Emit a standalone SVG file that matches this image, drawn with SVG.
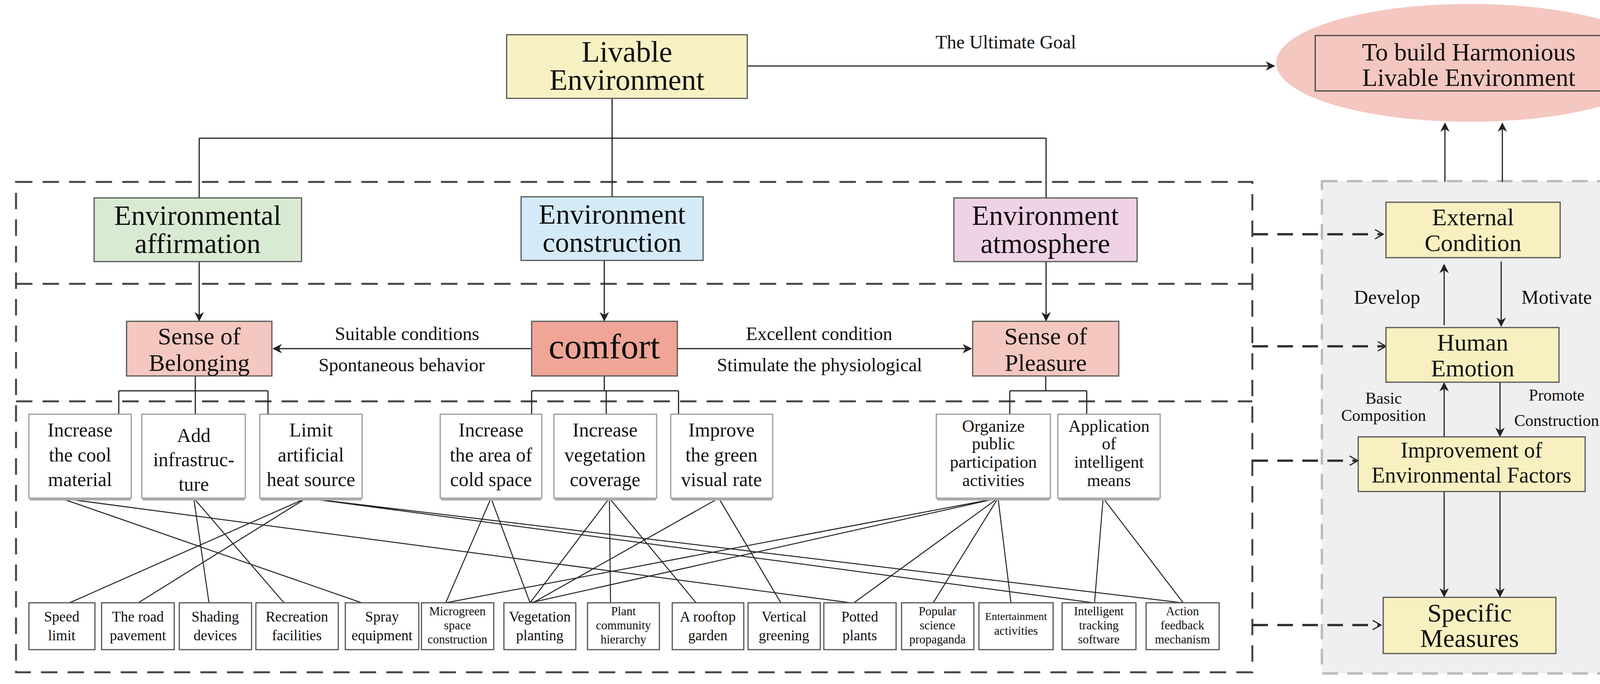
<svg xmlns="http://www.w3.org/2000/svg" width="4289" height="1752" viewBox="0 0 4289 1752">
<defs>
<style>
text{font-family:"Liberation Serif","Times New Roman",serif;fill:#111;text-anchor:middle}
.b{stroke:#555;stroke-width:3}
.w{fill:#fff;stroke:#999;stroke-width:3}
.sh{fill:none;stroke:#aaa;stroke-width:6}
.c{stroke:#222;stroke-width:3;fill:none}
.x{stroke:#222;stroke-width:2.5;fill:none}
.d{stroke:#444;stroke-width:5;fill:none;stroke-dasharray:42 26}
.dd{stroke:#333;stroke-width:6;fill:none;stroke-dasharray:40 24}
.h1{font-size:76px}.h2{font-size:62px}.h3{font-size:48px}.h4{font-size:50px}.h5{font-size:37px}.h6{font-size:31px}
</style>
<marker id="A" viewBox="0 0 10 10" refX="9" refY="5" markerWidth="24" markerHeight="24" orient="auto" markerUnits="userSpaceOnUse"><path d="M0,0L10,5L0,10L3,5z" fill="#222"/></marker>
</defs>
<rect width="4289" height="1752" fill="#fff"/>
<rect x="3384" y="464" width="798" height="1261" fill="#efefef" stroke="#bbb" stroke-width="6" stroke-dasharray="40 24"/>
<path class="d" d="M41,466H3206V1722H41Z M41,727H3206 M41,1028H3206"/>
<g id="connectors">
<path class="c" d="M1913,169H3262" marker-end="url(#A)"/>
<path class="c" d="M1567,252V504 M510,354H2678 M510,354V507 M2678,354V507"/>
<path class="c" d="M510,670V821" marker-end="url(#A)"/>
<path class="c" d="M1547,667V821" marker-end="url(#A)"/>
<path class="c" d="M2678,670V821" marker-end="url(#A)"/>
<path class="c" d="M1361,893H700" marker-end="url(#A)"/>
<path class="c" d="M1734,893H2486" marker-end="url(#A)"/>
<path class="c" d="M3699,466V316" marker-end="url(#A)"/>
<path class="c" d="M3846,466V316" marker-end="url(#A)"/>
<path class="c" d="M3697,833V678" marker-end="url(#A)"/>
<path class="c" d="M3843,670V835" marker-end="url(#A)"/>
<path class="c" d="M3697,1119V981" marker-end="url(#A)"/>
<path class="c" d="M3840,979V1117" marker-end="url(#A)"/>
<path class="c" d="M3697,1259V1528" marker-end="url(#A)"/>
<path class="c" d="M3840,1259V1528" marker-end="url(#A)"/>
<path class="dd" d="M3206,600H3538 M3206,887H3545 M3206,1180H3472 M3206,1601H3532"/>
<path class="c" d="M3520,588L3541,600L3520,612 M3527,875L3548,887L3527,899 M3455,1168L3476,1180L3455,1192 M3514,1589L3535,1601L3514,1613" fill="#222"/>
<path class="c" d="M500,963V1001 M304,1001H686 M304,1001V1061 M500,1001V1061 M686,1001V1061"/>
<path class="c" d="M1547,963V1001 M1361,1001H1737 M1361,1001V1061 M1552,1001V1061 M1737,1001V1061"/>
<path class="c" d="M2677,963V1001 M2585,1001H2782 M2585,1001V1061 M2782,1001V1061"/>
<path class="x" d="M155,1276L926,1544 M155,1276L2178,1544 M496,1276L535,1544 M496,1276L727,1544 M784,1276L178,1544 M784,1276L354,1544 M784,1276L2799,1544 M784,1276L3027,1544 M1257,1276L1141,1544 M1257,1276L1357,1544 M1560,1276L1357,1544 M1560,1276L1563,1544 M1560,1276L1782,1544 M1840,1276L1364,1544 M1840,1276L1999,1544 M2555,1276L1141,1544 M2555,1276L1357,1544 M2555,1276L2186,1544 M2555,1276L2389,1544 M2555,1276L2588,1544 M2824,1276L2802,1544 M2824,1276L3029,1544"/>
</g>
<g id="goal"><ellipse cx="3763" cy="161" rx="496" ry="151" fill="#f4c7c0"/><rect x="3367" y="91" width="785" height="142" fill="#f4c7c0" stroke="#444" stroke-width="3"/><text x="3760" y="155" font-size="64">To build Harmonious</text><text x="3760" y="220" font-size="64">Livable Environment</text></g>
<text class="h3" x="2575" y="124">The Ultimate Goal</text>
<g id="livable"><rect class="b" x="1297" y="89" width="616" height="163" fill="#f8f1c3"/><text class="h1" x="1605" y="158">Livable</text><text class="h1" x="1605" y="230">Environment</text></g>
<g id="affirm"><rect class="b" x="241" y="507" width="531" height="163" fill="#d9ead3"/><text x="506" y="576" font-size="72">Environmental</text><text x="506" y="648" font-size="72">affirmation</text></g>
<g id="constr"><rect class="b" x="1334" y="504" width="466" height="163" fill="#d4eaf7"/><text x="1567" y="573" font-size="72">Environment</text><text x="1567" y="645" font-size="72">construction</text></g>
<g id="atmos"><rect class="b" x="2442" y="507" width="469" height="163" fill="#f0d2e6"/><text x="2676" y="576" font-size="72">Environment</text><text x="2676" y="648" font-size="72">atmosphere</text></g>
<g id="belong"><rect class="b" x="324" y="823" width="372" height="140" fill="#f4c7c0"/><text class="h2" x="510" y="882">Sense of</text><text class="h2" x="510" y="950">Belonging</text></g>
<g id="comfort"><rect class="b" x="1361" y="823" width="373" height="140" fill="#f0a596"/><text x="1547" y="918" font-size="90">comfort</text></g>
<g id="pleasure"><rect class="b" x="2490" y="823" width="374" height="140" fill="#f4c7c0"/><text class="h2" x="2677" y="882">Sense of</text><text class="h2" x="2677" y="950">Pleasure</text></g>
<text class="h3" x="1042" y="871">Suitable conditions</text><text class="h3" x="1028" y="951">Spontaneous behavior</text>
<text class="h3" x="2097" y="871">Excellent condition</text><text class="h3" x="2098" y="951">Stimulate the physiological</text>
<g id="external"><rect class="b" x="3548" y="518" width="446" height="142" fill="#f8f0c0"/><text class="h2" x="3771" y="577">External</text><text class="h2" x="3771" y="643">Condition</text></g>
<g id="human"><rect class="b" x="3548" y="839" width="443" height="140" fill="#f8f0c0"/><text class="h2" x="3770" y="898">Human</text><text class="h2" x="3770" y="964">Emotion</text></g>
<g id="improve"><rect class="b" x="3477" y="1119" width="581" height="140" fill="#f8f0c0"/><text x="3767" y="1172" font-size="56">Improvement of</text><text x="3767" y="1236" font-size="56">Environmental Factors</text></g>
<g id="specific"><rect class="b" x="3541" y="1530" width="442" height="144" fill="#f8f0c0"/><text x="3762" y="1592" font-size="66">Specific</text><text x="3762" y="1657" font-size="66">Measures</text></g>
<text class="h4" x="3551" y="778">Develop</text><text class="h4" x="3985" y="778">Motivate</text>
<text x="3542" y="1034" font-size="42">Basic</text><text x="3542" y="1078" font-size="42">Composition</text>
<text x="3985" y="1026" font-size="42">Promote</text><text x="3985" y="1091" font-size="42">Construction</text>
<g id="t1"><rect class="w" x="74" y="1061" width="262" height="215"/><text class="h4" x="205" y="1118">Increase</text><text class="h4" x="205" y="1182">the cool</text><text class="h4" x="205" y="1245">material</text></g>
<g id="t2"><rect class="w" x="363" y="1061" width="265" height="215"/><text class="h4" x="496" y="1132">Add</text><text class="h4" x="496" y="1194">infrastruc-</text><text class="h4" x="496" y="1257">ture</text></g>
<g id="t3"><rect class="w" x="665" y="1061" width="262" height="215"/><text class="h4" x="796" y="1118">Limit</text><text class="h4" x="796" y="1182">artificial</text><text class="h4" x="796" y="1245">heat source</text></g>
<g id="t4"><rect class="w" x="1127" y="1061" width="260" height="215"/><text class="h4" x="1257" y="1118">Increase</text><text class="h4" x="1257" y="1182">the area of</text><text class="h4" x="1257" y="1245">cold space</text></g>
<g id="t5"><rect class="w" x="1418" y="1061" width="263" height="215"/><text class="h4" x="1549" y="1118">Increase</text><text class="h4" x="1549" y="1182">vegetation</text><text class="h4" x="1549" y="1245">coverage</text></g>
<g id="t6"><rect class="w" x="1717" y="1061" width="261" height="215"/><text class="h4" x="1847" y="1118">Improve</text><text class="h4" x="1847" y="1182">the green</text><text class="h4" x="1847" y="1245">visual rate</text></g>
<g id="t7"><rect class="w" x="2397" y="1061" width="292" height="215"/><text x="2543" y="1106" font-size="44">Organize</text><text x="2543" y="1151" font-size="44">public</text><text x="2543" y="1198" font-size="44">participation</text><text x="2543" y="1245" font-size="44">activities</text></g>
<g id="t8"><rect class="w" x="2708" y="1061" width="262" height="215"/><text x="2839" y="1106" font-size="44">Application</text><text x="2839" y="1151" font-size="44">of</text><text x="2839" y="1198" font-size="44">intelligent</text><text x="2839" y="1245" font-size="44">means</text></g>
<path class="sh" d="M76,1279H334 M365,1279H626 M667,1279H925 M1129,1279H1385 M1420,1279H1679 M1719,1279H1976 M2399,1279H2687 M2710,1279H2968"/>
<g id="m1"><rect class="b" fill="#fff" x="74" y="1544" width="169" height="120"/><text class="h5" x="158" y="1592">Speed</text><text class="h5" x="158" y="1640">limit</text></g>
<g id="m2"><rect class="b" fill="#fff" x="260" y="1544" width="186" height="120"/><text class="h5" x="353" y="1592">The road</text><text class="h5" x="353" y="1640">pavement</text></g>
<g id="m3"><rect class="b" fill="#fff" x="459" y="1544" width="185" height="120"/><text class="h5" x="551" y="1592">Shading</text><text class="h5" x="551" y="1640">devices</text></g>
<g id="m4"><rect class="b" fill="#fff" x="655" y="1544" width="211" height="120"/><text class="h5" x="760" y="1592">Recreation</text><text class="h5" x="760" y="1640">facilities</text></g>
<g id="m5"><rect class="b" fill="#fff" x="884" y="1544" width="188" height="120"/><text class="h5" x="978" y="1592">Spray</text><text class="h5" x="978" y="1640">equipment</text></g>
<g id="m6"><rect class="b" fill="#fff" x="1079" y="1544" width="185" height="120"/><text class="h6" x="1171" y="1576">Microgreen</text><text class="h6" x="1171" y="1612">space</text><text class="h6" x="1171" y="1648">construction</text></g>
<g id="m7"><rect class="b" fill="#fff" x="1290" y="1544" width="184" height="120"/><text class="h5" x="1382" y="1592">Vegetation</text><text class="h5" x="1382" y="1640">planting</text></g>
<g id="m8"><rect class="b" fill="#fff" x="1504" y="1544" width="184" height="120"/><text class="h6" x="1596" y="1576">Plant</text><text class="h6" x="1596" y="1612">community</text><text class="h6" x="1596" y="1648">hierarchy</text></g>
<g id="m9"><rect class="b" fill="#fff" x="1721" y="1544" width="183" height="120"/><text class="h5" x="1812" y="1592">A rooftop</text><text class="h5" x="1812" y="1640">garden</text></g>
<g id="m10"><rect class="b" fill="#fff" x="1915" y="1544" width="185" height="120"/><text class="h5" x="2007" y="1592">Vertical</text><text class="h5" x="2007" y="1640">greening</text></g>
<g id="m11"><rect class="b" fill="#fff" x="2109" y="1544" width="185" height="120"/><text class="h5" x="2201" y="1592">Potted</text><text class="h5" x="2201" y="1640">plants</text></g>
<g id="m12"><rect class="b" fill="#fff" x="2308" y="1544" width="185" height="120"/><text class="h6" x="2400" y="1576">Popular</text><text class="h6" x="2400" y="1612">science</text><text class="h6" x="2400" y="1648">propaganda</text></g>
<g id="m13"><rect class="b" fill="#fff" x="2506" y="1544" width="190" height="120"/><text x="2601" y="1588" font-size="28">Entertainment</text><text class="h6" x="2601" y="1626">activities</text></g>
<g id="m14"><rect class="b" fill="#fff" x="2719" y="1544" width="189" height="120"/><text class="h6" x="2813" y="1576">Intelligent</text><text class="h6" x="2813" y="1612">tracking</text><text class="h6" x="2813" y="1648">software</text></g>
<g id="m15"><rect class="b" fill="#fff" x="2934" y="1544" width="187" height="120"/><text class="h6" x="3027" y="1576">Action</text><text class="h6" x="3027" y="1612">feedback</text><text class="h6" x="3027" y="1648">mechanism</text></g>
</svg>
